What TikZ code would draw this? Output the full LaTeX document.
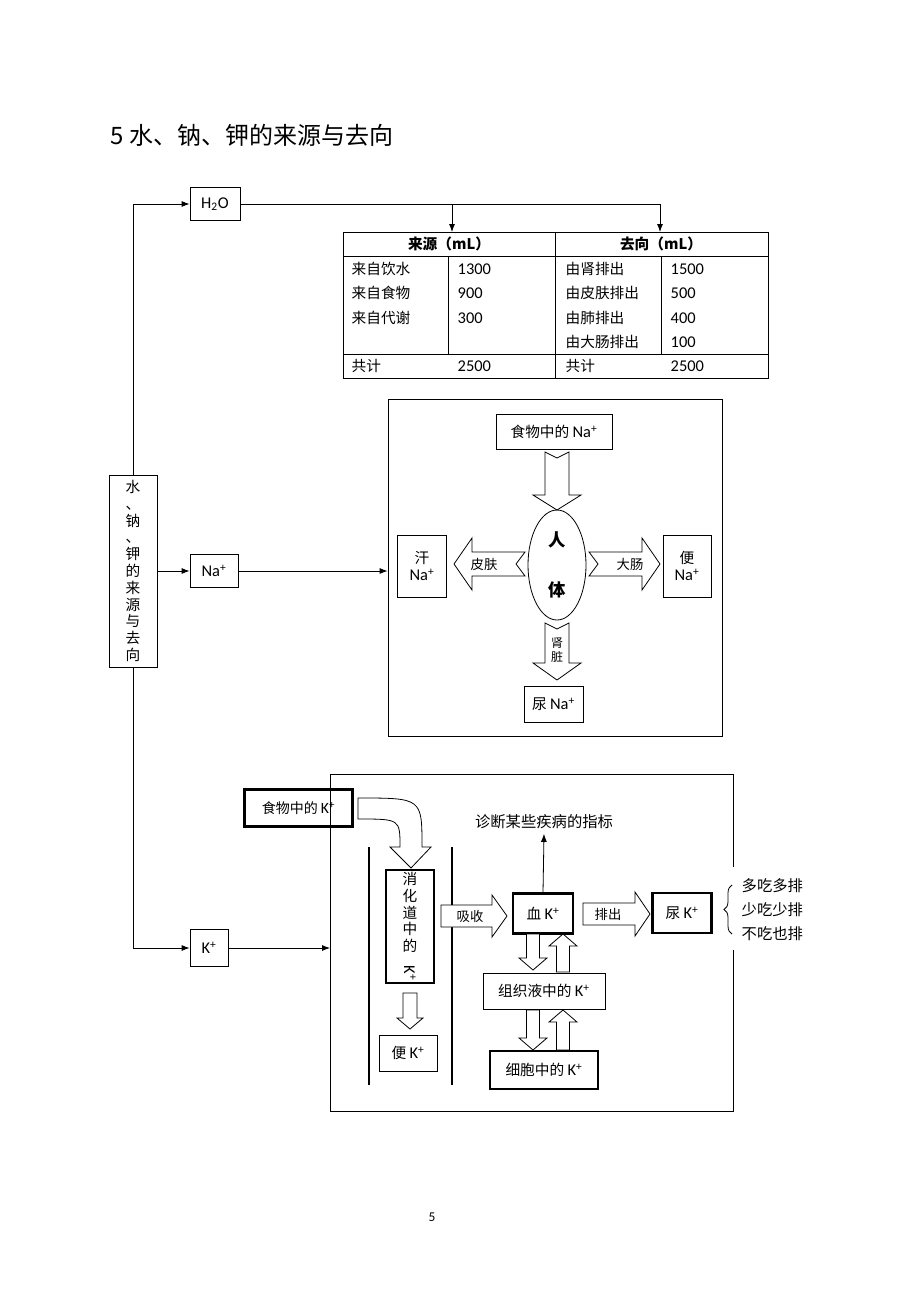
\documentclass[tikz,border=0pt]{standalone}
\usepackage{fontspec}
\setmainfont{Noto Sans CJK SC}
\newfontfamily\latin{Carlito}[Scale=1.12]
\usetikzlibrary{arrows.meta,shapes.geometric,decorations.pathreplacing}

\newcommand{\ion}[1]{{\latin #1\textsuperscript{+}}}

\tikzset{
  sz/.style 2 args={minimum width=#1*0.75pt,minimum height=#2*0.75pt},
  box/.style={draw,line width=.6pt,inner sep=1pt,font=\fontsize{11}{13}\selectfont},
  bbox/.style={box,line width=1.6pt},
  arr/.style={line width=.6pt,-{Latex[length=6pt,width=4.5pt]}},
  txt/.style={font=\fontsize{11}{13}\selectfont},
  pics/fat/.style args={#1/#2/#3/#4/#5}{code={
    \draw[line width=.6pt,fill=white] (0,-#2) -- (#1-#4,-#2) -- (#1-#4,-#3) -- (#1,0)
      -- (#1-#4,#3) -- (#1-#4,#2) -- (0,#2) -- (#5,0) -- cycle;
  }},
}

\begin{document}
\begin{tikzpicture}[x=0.75pt,y=-0.75pt]
\useasboundingbox[fill=white] (0,0) rectangle (920,1302);
\node[anchor=west,font=\fontsize{18}{20}\selectfont] (title) at (106,135) {5 水、钠、钾的来源与去向};
% left column
\node[box,sz={48}{192},align=center,font=\fontsize{11}{12.6}\selectfont] (main) at (133,571)
  {水\\、\\钠\\、\\钾\\的\\来\\源\\与\\去\\向};
\node[box,sz={50}{33}] (h2o) at (215,204) {\latin H\textsubscript{2}O};
\node[box,sz={48}{33}] (na) at (214,571) {\ion{Na}};
\node[box,sz={38}{37}] (k) at (209,948) {\ion{K}};
\draw[arr] (main.north) |- (h2o.west);
\draw[arr] (main.east) -- (na.west);
\draw[arr] (main.south) |- (k.west);
% water table
\coordinate (srctop) at (452,232);
\coordinate (dsttop) at (660,232);
\draw[arr] (h2o.east) -| (srctop);
\draw[arr] (h2o.east) -| (dsttop);
\draw[line width=.6pt] (343,232) rectangle (768,378);
\draw[line width=.6pt] (555,232) -- (555,378);
\draw[line width=.6pt] (343,256) -- (768,256);
\draw[line width=.6pt] (343,354) -- (768,354);
\draw[line width=.6pt] (448,256) -- (448,354);
\draw[line width=.6pt] (661,256) -- (661,354);
\node[txt,font=\fontsize{11}{13}\selectfont\bfseries] (srchead) at (449,244) {来源（mL）};
\node[txt,font=\fontsize{11}{13}\selectfont\bfseries] (dsthead) at (661,244) {去向（mL）};
\node[txt,anchor=west] (src1) at (347,269) {来自饮水};
\node[txt,anchor=west] (src2) at (347,293) {来自食物};
\node[txt,anchor=west] (src3) at (347,318) {来自代谢};
\node[txt,anchor=west] (srcv1) at (453,269) {\latin 1300};
\node[txt,anchor=west] (srcv2) at (453,293) {\latin 900};
\node[txt,anchor=west] (srcv3) at (453,318) {\latin 300};
\node[txt,anchor=west] (dst1) at (561,269) {由肾排出};
\node[txt,anchor=west] (dst2) at (561,293) {由皮肤排出};
\node[txt,anchor=west] (dst3) at (561,318) {由肺排出};
\node[txt,anchor=west] (dst4) at (561,342) {由大肠排出};
\node[txt,anchor=west] (dstv1) at (666,269) {\latin 1500};
\node[txt,anchor=west] (dstv2) at (666,293) {\latin 500};
\node[txt,anchor=west] (dstv3) at (666,318) {\latin 400};
\node[txt,anchor=west] (dstv4) at (666,342) {\latin 100};
\node[txt,anchor=west] (srcsum) at (347,366) {共计};
\node[txt,anchor=west] (srcsumv) at (453,366) {\latin 2500};
\node[txt,anchor=west] (dstsum) at (561,366) {共计};
\node[txt,anchor=west] (dstsumv) at (666,366) {\latin 2500};
% sodium
\node[box,sz={334}{337}] (nabox) at (555,567.5) {};
\draw[arr] (na.east) -- (na.east -| nabox.west);
\node[box,sz={116}{35}] (nafood) at (554,432) {食物中的 \ion{Na}};
\pic[rotate=-90] at (557,452) {fat={58/12/24/15/6}};
\node[draw,ellipse,line width=.6pt,sz={58}{110},align=center,inner sep=0pt,
  font=\fontsize{13}{37}\selectfont\bfseries] (body) at (557,565) {人\\体};
\pic[rotate=180] at (525,564) {fat={71/12/26/18/9}};
\pic at (589,564) {fat={71/12/26/18/9}};
\pic[rotate=-90] at (557,623) {fat={57/12/24/17/6}};
\node[font=\fontsize{10}{12}\selectfont] (skin) at (484,564) {皮肤};
\node[font=\fontsize{10}{12}\selectfont] (colon) at (630,564) {大肠};
\node[font=\fontsize{9}{11}\selectfont,align=center] (kidney) at (557,650) {肾\\脏};
\node[box,sz={49}{62},align=center] (sweat) at (422,566) {汗\\\ion{Na}};
\node[box,sz={48}{62},align=center] (stoolna) at (687,566) {便\\\ion{Na}};
\node[box,sz={59}{36}] (urinena) at (553.5,704) {尿 \ion{Na}};
% potassium
\draw[line width=.6pt] (733,867) -- (733,774) -- (330,774) -- (330,1111) -- (733,1111) -- (733,950);
\coordinate (kframe) at (330,948);
\draw[arr] (k.east) -- (kframe);
\node[bbox,sz={108}{37},font=\fontsize{10.5}{12}\selectfont] (kfood) at (298.5,808) {食物中的 \ion{K}};
\draw[line width=.6pt,fill=white] (358,798) .. controls (422,798) .. (422,847) -- (431,847)
  -- (411,868) -- (390,847) -- (400,847) .. controls (400,819) .. (358,819) -- cycle;
\draw[line width=1.6pt] (369,847) -- (369,1085);
\draw[line width=1.6pt] (452,847) -- (452,1085);
\node[bbox,sz={48}{113},align=center,font=\fontsize{11}{12.5}\selectfont] (gut) at (410,926.5)
  {消\\化\\道\\中\\的\\[-2pt]\rotatebox{-90}{\ion{K}}};
\pic[rotate=-90] at (410,993) {fat={36/7/13/11/0}};
\node[box,sz={58}{36}] (stoolk) at (408,1053) {便 \ion{K}};
\pic at (441,916) {fat={66/11/21/15/0}};
\node[font=\fontsize{10}{12}\selectfont] (absorb) at (470,916) {吸收};
\node[bbox,sz={60}{40}] (bloodk) at (543,913.5) {血 \ion{K}};
\node[font=\fontsize{11.5}{13}\selectfont] (diag) at (544,822) {诊断某些疾病的指标};
\draw[arr] (bloodk.north) -- (diag.south);
\pic at (583,914) {fat={67/11/22/15/0}};
\node[font=\fontsize{10}{12}\selectfont] (excrete) at (608,914) {排出};
\node[bbox,sz={59}{40}] (urinek) at (682,913) {尿 \ion{K}};
\draw[line width=.6pt,decorate,decoration={brace,amplitude=6pt}] (732,934) -- (732,885);
\node[anchor=west,align=left,font=\fontsize{11.5}{18}\selectfont] (rule) at (737,910)
  {多吃多排\\少吃少排\\不吃也排};
\pic[rotate=-90] at (533,934) {fat={36/6.5/14/12/0}};
\pic[rotate=90] at (563,972) {fat={38/6.5/14/12/0}};
\pic[rotate=-90] at (533,1010) {fat={40/6.5/14/12/0}};
\pic[rotate=90] at (563,1050) {fat={40/6.5/14/12/0}};
\node[box,sz={122}{36}] (tissuek) at (544,991) {组织液中的 \ion{K}};
\node[bbox,sz={108}{38}] (cellk) at (544,1070) {细胞中的 \ion{K}};
\node[font=\fontsize{9}{11}\selectfont] (page) at (432,1217) {\latin 5};
\end{tikzpicture}
\end{document}
